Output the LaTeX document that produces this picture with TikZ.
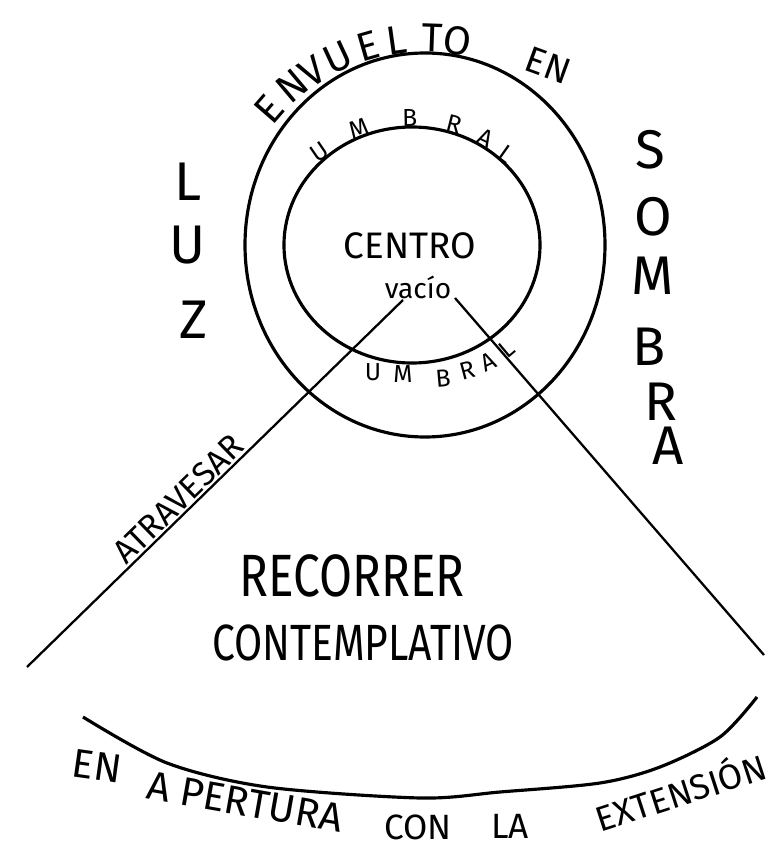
\documentclass[tikz,border=0pt]{standalone}
\usepackage{fontspec}
\setmainfont{Fira Sans}
\newfontfamily\narrowhand{Fira Sans}[FakeStretch=0.8]
\usetikzlibrary{calc}

\begin{document}
\begin{tikzpicture}[
          x=0.02cm, y=0.02cm,
          ring/.style={draw,line width=1.8pt},
          ray/.style={draw,line width=1.3pt},
          lbl/.style={inner sep=0pt,text depth=0pt},
          tall/.style={lbl,font=\fontsize{31}{31}\selectfont},
          arcword/.style={lbl,font=\fontsize{23}{23}\selectfont},
          tiny/.style={lbl,font=\fontsize{14}{14}\selectfont},
          title/.style={lbl,font=\narrowhand\fontsize{34}{34}\selectfont}
            ]
            \useasboundingbox (0,0) rectangle (779,850);
            % circles
            \coordinate (oc) at (425,605);
            \coordinate (ic) at (412,605);
            \draw[ring] (oc) ellipse [x radius=180, y radius=192];
            \draw[ring] (ic) ellipse [x radius=128, y radius=118];
            % centre
            \node[lbl,font=\fontsize{21}{21}\selectfont] (centro) at (410,604) {CENTRO};
            \node[lbl,font=\fontsize{16}{16}\selectfont] (vacio) at (418,563) {vacío};
            \foreach \l/\a [count=\i] in {E/139,N/130,V/123,U/115,E/106,L/98,T/88,O/81}
              \node[arcword,rotate=\a-90] (env\i) at ($(oc)+(\a:207)$) {\l};
            \node[lbl,font=\fontsize{21}{21}\selectfont,rotate=-20] (en) at (548,785) {EN};
            \foreach \l/\a [count=\i] in {U/133,M/113,B/91,R/72,A/57,L/46}
              \node[tiny,rotate=(\a-90)*0.8] (umbup\i) at ($(ic)+(\a:136 and 127)$) {\l};
            \foreach \l/\x/\y/\r [count=\i] in {U/373/478/0,M/403/476/0,B/443/472/5,R/467/480/15,A/488/488/25,L/507/501/40}
              \node[tiny,rotate=\r] (umbdn\i) at (\x,\y) {\l};
            % side words
            \foreach \l/\x/\y [count=\i] in {L/188/668,U/188/605,Z/194/530}
              \node[tall] (luz\i) at (\x,\y) {\l};
            \foreach \l/\x/\y [count=\i] in {S/650/701,O/653/634,M/653/574,B/649/503,R/661/448,A/668/404}
              \node[tall] (sombra\i) at (\x,\y) {\l};
            % rays
            \coordinate (rayl) at (403,550);
            \coordinate (rayr) at (455,552);
            \coordinate (endl) at (27,183);
            \coordinate (endr) at (764,195);
            \draw[ray] (rayl) -- node[lbl,sloped,above=1pt,pos=0.57,font=\fontsize{19}{19}\selectfont] (atravesar) {ATRAVESAR} (endl);
            \draw[ray] (rayr) -- (endr);
            \node[title] (recorrer) at (352,274) {RECORRER};
            \node[title,font=\narrowhand\fontsize{29}{29}\selectfont] (contemplativo) at (363,207) {CONTEMPLATIVO};
            % bottom arc
            \draw[ring] plot[smooth] coordinates {(83,133) (167,87) (267,63) (420,52) (500,58) (600,67) (660,83) (720,113) (757,153)};
            \node[arcword,rotate=-8] (enb) at (97,84) {EN};
            \node[arcword,rotate=-10] (apertura) at (245,48) {A PERTURA};
            \node[lbl,font=\fontsize{20}{20}\selectfont] (con) at (418,23) {CON};
            \node[lbl,font=\fontsize{20}{20}\selectfont] (la) at (510,24) {LA};
            \node[lbl,font=\fontsize{20}{20}\selectfont,rotate=18] (extension) at (680,60) {EXTENSIÓN};
            \end{tikzpicture}
\end{document}
